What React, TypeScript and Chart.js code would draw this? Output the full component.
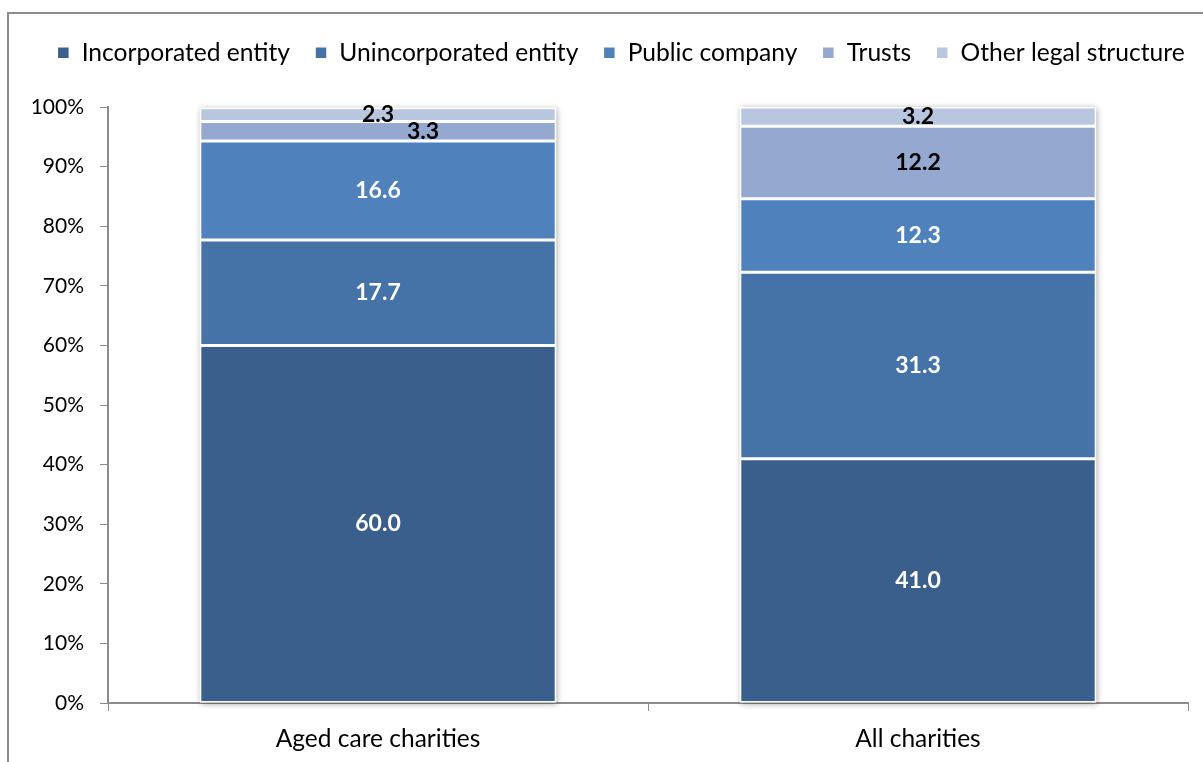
import React, { useEffect, useRef } from "react";
import { Chart, registerables } from "chart.js";

Chart.register(...registerables);

const categories = ["Aged care charities", "All charities"];
const seriesNames = [
  "Incorporated entity",
  "Unincorporated entity",
  "Public company",
  "Trusts",
  "Other legal structure",
];
const incorporated = [60.0, 41.0];
const unincorporated = [17.7, 31.3];
const publicCompany = [16.6, 12.3];
const trusts = [3.3, 12.2];
const otherLegal = [2.3, 3.2];
const yTicks = [0, 10, 20, 30, 40, 50, 60, 70, 80, 90, 100];

const seriesValues = [incorporated, unincorporated, publicCompany, trusts, otherLegal];
const seriesColors = ["#3B5F8D", "#4572A7", "#4F81BD", "#95A9D0", "#B9C6E0"];
const labelColors = ["#ffffff", "#ffffff", "#ffffff", "#000000", "#000000"];

const FONT = "Lato, 'Open Sans', sans-serif";

const labelPlugin = {
  id: "segLabels",
  afterDatasetsDraw(chart: any) {
    const ctx = chart.ctx;
    ctx.save();
    ctx.font = `bold 23px ${FONT}`;
    ctx.textAlign = "center";
    ctx.textBaseline = "middle";
    chart.data.datasets.forEach((ds: any, di: number) => {
      const meta = chart.getDatasetMeta(di);
      meta.data.forEach((bar: any, i: number) => {
        const v = ds.data[i];
        const cy = (bar.y + bar.base) / 2;
        const shift = di === 3 && i === 0 ? 45 : 0;
        ctx.fillStyle = labelColors[di];
        ctx.fillText(v.toFixed(1), bar.x + shift, cy);
      });
    });
    ctx.restore();
  },
};

const shadowPlugin = {
  id: "barShadow",
  beforeDatasetsDraw(chart: any) {
    const ctx = chart.ctx;
    ctx.save();
    const metas = chart.getSortedVisibleDatasetMetas();
    const first = metas[0];
    const last = metas[metas.length - 1];
    first.data.forEach((bar: any, i: number) => {
      const top = last.data[i].y;
      const w = bar.width;
      ctx.shadowColor = "rgba(0,0,0,0.35)";
      ctx.shadowBlur = 6;
      ctx.shadowOffsetX = 1;
      ctx.shadowOffsetY = 1;
      ctx.fillStyle = "#ffffff";
      ctx.fillRect(bar.x - w / 2, top, w, bar.base - top);
    });
    ctx.restore();
  },
};

const legendShift = {
  id: "legendShift",
  afterLayout(chart: any) {
    const lg = chart.legend;
    if (lg) {
      lg.left += 27;
      lg.right += 27;
    }
  },
};

export default function App() {
  const ref = useRef<HTMLCanvasElement>(null);
  useEffect(() => {
    if (!ref.current) return;
    const chart = new Chart(ref.current, {
      type: "bar",
      data: {
        labels: categories,
        datasets: seriesNames.map((name, i) => ({
          label: name,
          data: seriesValues[i],
          backgroundColor: seriesColors[i],
          borderColor: "#ffffff",
          borderWidth: 1.5,
          borderSkipped: false,
          categoryPercentage: 0.66,
          barPercentage: 1,
        })),
      },
      options: {
        animation: false,
        responsive: true,
        maintainAspectRatio: false,
        layout: { padding: { top: 15.5, right: 15, left: 0, bottom: 0 } },
        plugins: {
          legend: {
            position: "top",
            align: "center",
            labels: {
              boxWidth: 12,
              boxHeight: 12,
              padding: 25,
              color: "#000000",
              font: { family: FONT, size: 24.6 },
            },
          },
          subtitle: {
            display: true,
            text: " ",
            position: "top",
            weight: 0,
            color: "rgba(0,0,0,0)",
            font: { size: 32, lineHeight: 1 },
            padding: 0,
          },
          tooltip: { enabled: false },
        },
        scales: {
          x: {
            stacked: true,
            grid: {
              display: true,
              drawOnChartArea: false,
              drawTicks: true,
              tickLength: 8,
              color: "#8c8c8c",
              offset: true,
            },
            border: { display: true, color: "#8c8c8c", width: 2 },
            ticks: {
              color: "#000000",
              padding: 13,
              font: { family: FONT, size: 24.5 },
            },
            afterFit: (s: any) => {
              s.height = 59;
            },
          },
          y: {
            stacked: true,
            min: 0,
            max: 100,
            afterBuildTicks: (s: any) => {
              s.ticks = yTicks.map((v) => ({ value: v }));
            },
            grid: {
              display: true,
              drawOnChartArea: false,
              drawTicks: true,
              tickLength: 8,
              color: "#8c8c8c",
            },
            border: { display: true, color: "#8c8c8c", width: 2 },
            ticks: {
              color: "#000000",
              padding: 16,
              font: { family: FONT, size: 21 },
              callback: (v: any) => `${v}%`,
            },
            afterFit: (s: any) => {
              s.width = 108;
            },
          },
        },
      },
      plugins: [shadowPlugin, labelPlugin, legendShift],
    });
    return () => chart.destroy();
  }, []);

  return (
    <div style={{ position: "fixed", left: 0, top: 0, width: 1203, height: 762, background: "#fff" }}>
      <div
        style={{
          position: "absolute",
          left: 7,
          top: 12,
          width: 1300,
          height: 900,
          borderTop: "2px solid #8c8c8c",
          borderLeft: "2px solid #8c8c8c",
        }}
      />
      <canvas ref={ref} style={{ position: "absolute", left: 0, top: 0, width: 1203, height: 762 }} />
    </div>
  );
}
